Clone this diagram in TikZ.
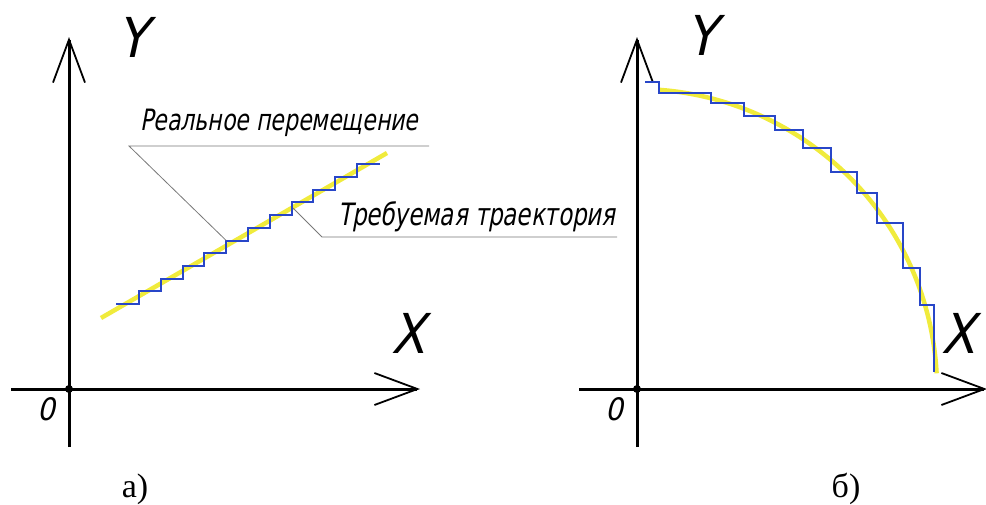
\documentclass[tikz,border=0pt]{standalone}
\usepackage{fontspec}
\usetikzlibrary{arrows.meta}
\newfontfamily\gost[FakeSlant=0.22]{DejaVu Sans Condensed}
\newfontfamily\tnr{Liberation Serif}
\definecolor{stairblue}{RGB}{40,70,200}
\definecolor{pathyellow}{RGB}{240,235,60}
\definecolor{leadergray}{RGB}{120,120,120}
\tikzset{
  axis/.style={line width=3pt, -{Straight Barb[length=43pt,width=32pt,line width=1.8pt]}},
  axisplain/.style={line width=3pt},
  required/.style={line width=4.5pt, color=pathyellow},
  actual/.style={line width=2pt, color=stairblue, line join=miter},
  leader/.style={line width=0.8pt, color=leadergray},
  axlabel/.style={font=\gost\fontsize{55}{55}\selectfont, inner sep=0pt, anchor=base},
  olabel/.style={font=\gost\fontsize{31}{31}\selectfont, inner sep=0pt, anchor=base},
  note/.style={font=\gost\fontsize{28}{28}\selectfont, inner sep=0pt, anchor=base west},
  caption/.style={font=\tnr\fontsize{34}{34}\selectfont, inner sep=0pt, anchor=base},
}
\begin{document}
\begin{tikzpicture}[x=1pt,y=-1pt]
\useasboundingbox (0,0) rectangle (986,504);
% ---------- panel a ----------
\coordinate (aO) at (69,389);
\coordinate (aYtop) at (69,37);
\coordinate (aYbot) at (69,447);
\coordinate (aXleft) at (11,389);
\coordinate (aXtip) at (420,389);
\draw[axisplain] (aYbot) -- (aO);
\draw[axis] (aO) -- (aYtop);
\draw[axisplain] (aXleft) -- (aO);
\draw[axis] (aO) -- (aXtip);
\fill (aO) circle (4pt);
\node[axlabel] (aY) at (133,57) {Y};
\node[axlabel] (aX) at (408,353) {X};
\node[olabel] (a0) at (46,420) {0};
% required trajectory (straight line)
\coordinate (aLs) at (101,318);
\coordinate (aLe) at (387,153);
\draw[required] (aLs) -- (aLe);
% actual movement (staircase)
\draw[actual] (116,304) -- (139,304) -- (139,291.3) -- (160.8,291.3) -- (160.8,278.6)
  -- (182.6,278.6) -- (182.6,265.9) -- (204.4,265.9) -- (204.4,253.2) -- (226.2,253.2)
  -- (226.2,240.5) -- (248,240.5) -- (248,227.8) -- (269.8,227.8) -- (269.8,215.1)
  -- (291.6,215.1) -- (291.6,202.4) -- (313.4,202.4) -- (313.4,189.7) -- (335.2,189.7)
  -- (335.2,177) -- (357,177) -- (357,164.3) -- (380,164.3);
% leaders
\coordinate (r1) at (226.2,240.5);
\coordinate (u1a) at (129,146);
\coordinate (u1b) at (429,146);
\draw[leader] (r1) -- (u1a) -- (u1b);
\node[note] (t1) at (140,130) {\scalebox{0.875}[1.05]{Реальное перемещение}};
\coordinate (r2) at (293,208);
\coordinate (u2a) at (322,237);
\coordinate (u2b) at (617,237);
\draw[leader] (r2) -- (u2a) -- (u2b);
\node[note] (t2) at (338,225) {\scalebox{0.91}[1.1]{Требуемая траектория}};
\node[caption] (capa) at (135,497) {а)};
% ---------- panel b ----------
\coordinate (bO) at (637,389);
\coordinate (bYtop) at (637,37);
\coordinate (bYbot) at (637,447);
\coordinate (bXleft) at (579,389);
\coordinate (bXtip) at (987,389);
\draw[axisplain] (bYbot) -- (bO);
\draw[axis] (bO) -- (bYtop);
\draw[axisplain] (bXleft) -- (bO);
\draw[axis] (bO) -- (bXtip);
\fill (bO) circle (4pt);
\node[axlabel] (bY) at (702,55) {Y};
\node[axlabel] (bX) at (958,353) {X};
\node[olabel] (b0) at (614,420) {0};
\draw[required] plot[domain=3:85.8, samples=80, smooth] ({637+300*cos(\x)},{389-300*sin(\x)});
\draw[actual] (645,82) -- (659,82) -- (659,93) -- (711,93) -- (711,103) -- (744,103)
  -- (744,116) -- (775,116) -- (775,130) -- (803,130) -- (803,148) -- (831,148)
  -- (831,172) -- (857,172) -- (857,193) -- (877,193) -- (877,223) -- (903,223)
  -- (903,268) -- (920,268) -- (920,305) -- (934,305) -- (934,372);
\node[caption] (capb) at (846,497) {б)};
\end{tikzpicture}
\end{document}
